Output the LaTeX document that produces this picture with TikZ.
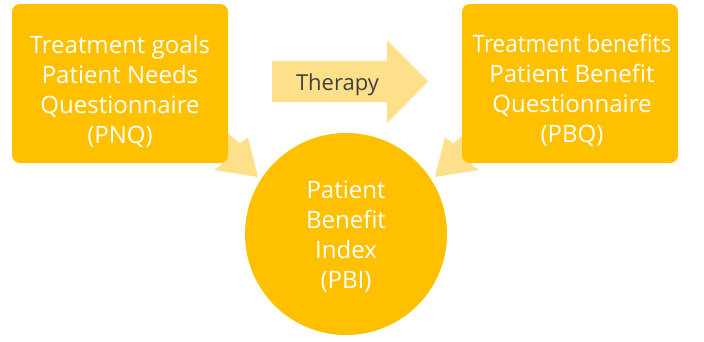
\documentclass[tikz,border=0pt]{standalone}
\usepackage{fontspec}
\setmainfont{Open Sans}
\definecolor{gold}{HTML}{FFC000}
\definecolor{lightgold}{HTML}{FFE08A}
\definecolor{darktext}{HTML}{404040}
\begin{document}
\begin{tikzpicture}[x=1pt,y=-1pt,
  goldbox/.style={fill=gold,draw=none,rounded corners=8pt,minimum width=216pt,minimum height=159pt,inner sep=0pt},
  goldcircle/.style={circle,fill=gold,draw=none,minimum size=202pt,inner sep=0pt},
  bigtext/.style={text=white,align=center,font=\fontsize{24}{30}\selectfont,inner sep=0pt},
  arrowfill/.style={fill=lightgold,draw=none}]
\useasboundingbox (0,0) rectangle (704,341);
% light arrows (behind)
\fill[arrowfill] (188.1,134.6) -- (205.7,114.2) -- (239.8,143.5) -- (248,137.5) -- (258,177) -- (214,170) -- (222.2,164.0) -- cycle;
\fill[arrowfill] (504.9,134.6) -- (487.3,114.2) -- (453.2,143.5) -- (445,137.5) -- (435,177) -- (479,170) -- (470.8,164.0) -- cycle;
% therapy arrow
\fill[arrowfill] (272,61) -- (387,61) -- (387,40) -- (428,81.5) -- (387,123) -- (387,102) -- (272,102) -- cycle;
% boxes
\node[goldbox] (pnq) at (120,83.5) {};
\node[goldbox] (pbq) at (570,83.5) {};
\node[goldcircle] (pbi) at (346,234) {};
\node[bigtext] (pnqtext) at (120,91.4) {Treatment goals\\Patient Needs\\Questionnaire\\(PNQ)};
\node[bigtext] (pbqtext) at (572,90.1) {\scalebox{0.935}[1]{Treatment benefits}\\Patient Benefit\\Questionnaire\\(PBQ)};
\node[bigtext] (pbitext) at (346,236.4) {Patient\\Benefit\\Index\\(PBI)};
\node[text=darktext,font=\fontsize{22}{26}\selectfont,anchor=base,inner sep=0pt] (therapy) at (337.5,90) {Therapy};
\end{tikzpicture}
\end{document}
